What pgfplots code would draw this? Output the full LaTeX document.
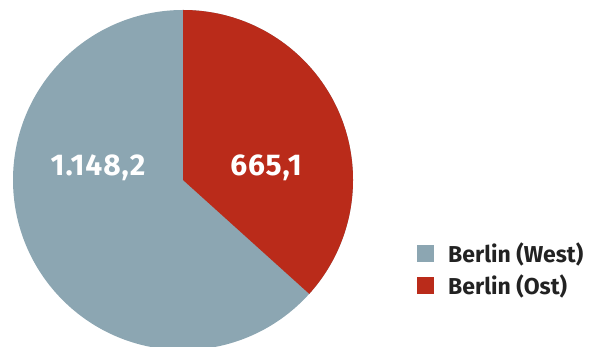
\documentclass[border=0pt]{standalone}
\usepackage{pgfplots}
\pgfplotsset{compat=1.18}
\usepackage{pgfplotstable}
\usepackage{fontspec}
\setmainfont{Fira Sans}
\definecolor{west}{HTML}{8CA6B2}
\definecolor{ost}{HTML}{BA2B1A}
\definecolor{txt}{HTML}{222222}
\pgfplotstableread{
label value
West 1148.2
Ost 665.1
}\pietable
\begin{document}
\begin{tikzpicture}
\pgfplotstablegetelem{0}{value}\of\pietable \let\vwest\pgfplotsretval
\pgfplotstablegetelem{1}{value}\of\pietable \let\vost\pgfplotsretval
\pgfmathsetmacro\aost{360*(\vost/(\vwest+\vost))}
\pgfmathsetmacro\aend{90-\aost}
\begin{axis}[name=ax, scale only axis, width=593pt, height=347pt,
  xmin=0, xmax=593, ymin=0, ymax=347, hide axis,
  legend style={at={(axis cs:417,102)}, anchor=north west, draw=none, fill=none,
    font=\bfseries\fontsize{23}{26}\selectfont, text=txt, row sep=15pt, inner sep=0pt,
    nodes={inner sep=0pt, text height=17pt, text depth=0pt}},
  legend cell align=left,
  legend image code/.code={\fill[#1] (0pt,-8.5pt) rectangle (17pt,8.5pt);}]
\path (axis cs:0,0) rectangle (axis cs:593,347);
\fill[west] (axis cs:183,167) -- ++(90:170pt) arc[start angle=90, end angle=\aend-360, radius=170pt] -- cycle;
\fill[ost] (axis cs:183,167) -- ++(90:170pt) arc[start angle=90, end angle=\aend, radius=170pt] -- cycle;
\node[text=white, anchor=base, inner sep=0pt, font=\bfseries\fontsize{30}{34}\selectfont\addfontfeatures{LetterSpace=3}] at (axis cs:98,171) {1.148,2};
\node[text=white, anchor=base, inner sep=0pt, font=\bfseries\fontsize{30}{34}\selectfont\addfontfeatures{LetterSpace=3}] at (axis cs:266,171) {665,1};
\addlegendimage{fill=west, draw=none}
\addlegendentry{\hspace*{14pt}Berlin (West)}
\addlegendimage{fill=ost, draw=none}
\addlegendentry{\hspace*{14pt}Berlin (Ost)}
\end{axis}
\pgfresetboundingbox
\useasboundingbox (ax.south west) rectangle (ax.north east);
\end{tikzpicture}
\end{document}
